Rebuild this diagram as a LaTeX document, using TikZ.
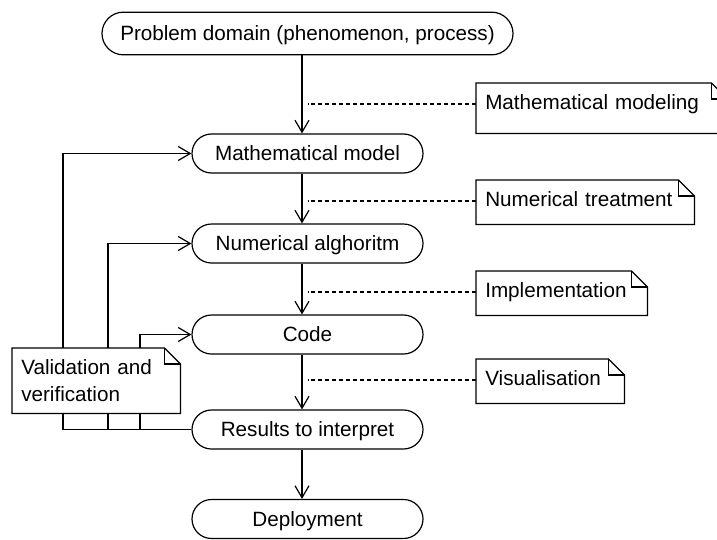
\documentclass[tikz,border=0pt]{standalone}
\usepackage{fontspec}
\setmainfont{Liberation Sans}
\usetikzlibrary{shapes.misc,arrows.meta}
\newcommand\diagfont{\fontsize{15.5pt}{20.25pt}\selectfont}
\begin{document}
\begin{tikzpicture}[x=0.75pt,y=-0.75pt,
  every node/.style={font=\diagfont},
  stage/.style={rounded rectangle, draw, line width=0.9pt, fill=white,
    minimum width=173.25pt, minimum height=29.25pt, inner sep=0pt,
    text height=11pt, text depth=0pt},
  flow/.style={draw, line width=0.9pt,
    -{Straight Barb[length=9pt,width=10.5pt]}},
  link/.style={line width=0.9pt},
  hint/.style={line width=0.9pt, dash pattern=on 3pt off 2.25pt},
  note/.style={anchor=north west, fill=white, inner xsep=6.75pt, inner ysep=0pt,
    align=left, text height=19.5pt, text depth=13.5pt},
  noteline/.style={line width=0.9pt, line join=miter}
]
\useasboundingbox (0,0) rectangle (717,539);

% process stages
\node[stage, minimum width=308.25pt, minimum height=32pt] (pd) at (307.5,33.5)
  {Problem domain (phenomenon, process)};
\node[stage] (mm) at (307.5,153.5) {Mathematical model};
\node[stage] (na) at (307.5,243.5) {Numerical alghoritm};
\node[stage] (co) at (307.5,334.5) {Code};
\node[stage] (ri) at (307.5,429.5) {Results to interpret};
\node[stage] (de) at (307.5,519) {Deployment};

% main flow
\foreach \a/\b in {pd/mm,mm/na,na/co,co/ri,ri/de}
  \draw[flow] ([xshift=-4.125pt]\a.south) -- ([xshift=-4.125pt]\b.north);

% activity notes on the right
\node[note, text width=174.75pt, text depth=18pt] (nm) at (476,83) {Mathematical modeling};
\node[note, text width=150pt] (nt) at (476,180) {Numerical treatment};
\node[note, text width=114.75pt] (ni) at (476,271) {Implementation};
\node[note, text width=97.5pt] (nv) at (476,359) {Visualisation};

\foreach \n in {nm,nt,ni,nv} {
  \coordinate (h\n) at ([yshift=4pt]\n.base west);
  \draw[hint] (h\n) -- (h\n -| mm.north);
}

% feedback loops
\coordinate (b1) at (63,0);
\coordinate (b2) at (108,0);
\coordinate (b3) at (140,0);
\draw[link] (ri.west) -- (ri.west -| b1);
\draw[flow] (ri.west -| b1) |- (mm.west);
\draw[flow] (ri.west -| b2) |- (na.west);
\draw[flow] (ri.west -| b3) |- (co.west);

\node[note, text width=112.5pt, text depth=29.25pt] (vv) at (12,348)
  {Validation and\\verification};

% note frames with folded corner
\foreach \n in {nm,nt,ni,nv,vv} {
  \draw[noteline] (\n.north west) -- ([xshift=-12pt]\n.north east)
    -- ([yshift=-12pt]\n.north east) -- (\n.south east) -- (\n.south west) -- cycle;
  \draw[noteline] ([xshift=-12pt]\n.north east) |- ([yshift=-12pt]\n.north east);
}
\end{tikzpicture}
\end{document}
